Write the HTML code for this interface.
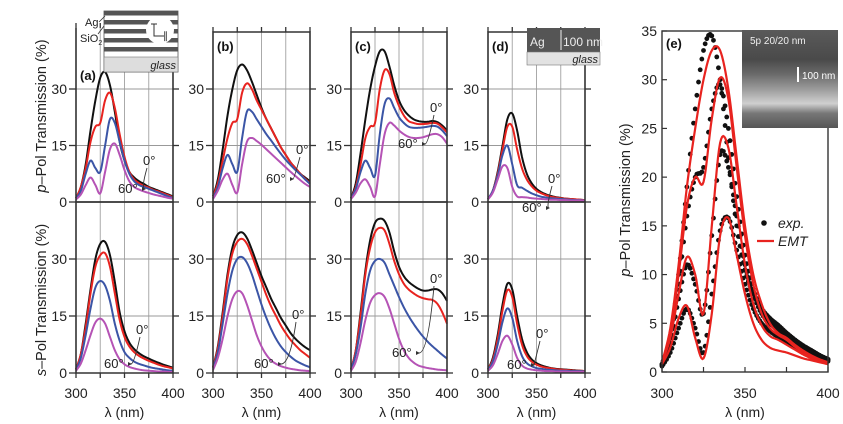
<!DOCTYPE html>
<html><head><meta charset="utf-8">
<style>
html,body{margin:0;padding:0;background:#fff;}
svg{display:block;font-family:"Liberation Sans",sans-serif;}
</style></head>
<body>
<svg id="fig" width="843" height="424" viewBox="0 0 843 424" xmlns="http://www.w3.org/2000/svg">
<rect x="0" y="0" width="843" height="424" fill="#fff"/>
<g id="grids"></g>
<g id="curves"></g>
<g id="frames"></g>
<g id="labels"></g>
</svg>
<script>
// ---------- data (wavelength samples every 5 nm) ----------
const wavelengths = [300,305,310,315,320,325,330,335,340,345,350,355,360,365,370,375,380,385,390,395,400];
const xTicks = [300,350,400];
const xGrid = [325,350,375];
const yTicksLeft = [0,15,30];
const yTicksE = [0,5,10,15,20,25,30,35];

// panel a, p-pol (0°,20°?,40°?,60°)
const pA_k = [1,4,10,19,27,33,34.5,31,24,16,11,8,6.5,5.5,4.8,4,3.5,3,2.5,2,1.5];
const pA_r = [1,4,9,16,20,21,27,29,25,18,12,8,6,5,4.3,3.8,3.2,2.8,2.3,1.8,1.3];
const pA_b = [1,3,7.5,11,9,8,15,22,21,16,11,7.5,5.5,4.5,4,3.5,3,2.5,2,1.5,1.1];
const pA_m = [0.7,2,4.5,6.5,4.5,2.3,8,14,15.5,12.5,8.5,5.5,4,3.3,2.8,2.4,2,1.7,1.4,1.1,0.9];
// panel b, p-pol
const pB_k = [1.5,6,14,23,30,35,36.5,35,32,28.5,25,22,19.5,17,14.5,12.5,10.5,9,7.5,6.5,5.5];
const pB_r = [1.5,5,11,17,21,22,29,31.5,30,27,24.5,22,19.5,17,14.5,12.5,10.5,9,7.5,6.2,5];
const pB_b = [1,4,9,12.5,10,8,17,24,24,22,20,18,16.3,14.5,12.8,11.2,9.8,8.5,7.3,6,4.8];
const pB_m = [0.8,3,6,7.5,4.5,2.5,10,16,17,16.2,15.2,14,12.8,11.6,10.4,9.2,8,6.9,5.8,4.8,4];
// panel c, p-pol
const pC_k = [1,5,13,22,30,36,40,40,36,31,27,24.5,23,22,21.5,21.3,21.3,21.5,21.2,20.3,19];
const pC_r = [1,4,10,17,20,21,30,35,34,29,25.5,23,21.5,21,20.7,20.7,20.8,21,20.8,19.8,18.5];
const pC_b = [1,3.5,8,11,9,7,18,26,27.5,25,22.5,21,20,19.7,19.7,19.8,20,20.2,20,19,17.5];
const pC_m = [0.8,2.5,5,6,4,1.5,10,18,21,20.3,19,18,17.3,17,17,17.2,17.6,18,18,17.2,15.5];
// panel d, p-pol
const pD_k = [0.8,3,8,15,22,23.5,19,12,7.5,5,3.5,2.6,2,1.6,1.3,1.1,0.9,0.8,0.7,0.6,0.5];
const pD_r = [0.8,3,7.5,14,20,20,14,9,6,4.2,3,2.3,1.8,1.4,1.2,1,0.9,0.8,0.7,0.6,0.5];
const pD_b = [0.8,3,7,12.5,15,10,4.5,3.8,3,2.3,1.8,1.4,1.2,1,0.9,0.8,0.7,0.6,0.5,0.5,0.4];
const pD_m = [0.7,2.5,6,9.5,9,4,1.5,1.3,1.2,1,0.9,0.8,0.7,0.6,0.6,0.5,0.5,0.4,0.4,0.4,0.3];
// panel a, s-pol
const sA_k = [1,5,13,22,30,34,34.5,31,24,16,11,8,6.3,5.2,4.4,3.8,3.2,2.7,2.2,1.8,1.4];
const sA_r = [1,5,12,21,28,31,31.5,28,21,14,9.5,7,5.5,4.5,3.8,3.2,2.7,2.2,1.8,1.5,1.2];
const sA_b = [0.8,4,10,17,22.5,24.2,23,19,13,8.5,5.5,4,3,2.4,2,1.6,1.3,1.1,0.9,0.7,0.6];
const sA_m = [0.6,2.5,6,10,13.3,14.3,13,9.5,6,3.6,2.3,1.6,1.2,0.9,0.7,0.6,0.5,0.4,0.4,0.3,0.3];
// panel b, s-pol
const sB_k = [1.5,7,16,26,33,36.3,37,35.5,32.5,29,25.5,22.5,19.5,17,14.5,12.5,10.5,9,7.8,6.8,6];
const sB_r = [1.5,6.5,15,25,31.5,34.5,35.3,34,31,27.5,24,20.5,17.5,15,12.5,10.5,8.7,7.3,6,5,4];
const sB_b = [1.2,5.5,13,21,27,30,30.5,29,26,22,18,14.5,11.5,9,7,5.5,4.3,3.3,2.6,2,1.5];
const sB_m = [0.8,4,9,15,19.5,21.5,21,18,14,10,7,4.8,3.3,2.4,1.8,1.4,1.1,0.9,0.7,0.6,0.5];
// panel c, s-pol
const sC_k = [1,6,16,27,35,39.5,40.6,40,37,32,28,25.5,24,23,22.2,21.7,21.7,22,22,21,19];
const sC_r = [1,6,15,26,33,37,38.2,37.5,34,29.5,26,23.5,22,21,20.2,19.7,19.4,19.2,18.2,16,13];
const sC_b = [0.8,5,12,21,27,29.5,30,29,26,23,20,17.3,15,13,11.2,9.6,8.2,7,5.9,4.8,3.8];
const sC_m = [0.6,3,8,14,18.5,20.5,21,20,17,13,9,6,4,2.8,2,1.6,1.3,1.1,0.9,0.8,0.7];
// panel d, s-pol
const sD_k = [1,4,10,18,23.5,22,15,9,5.5,3.6,2.6,2,1.6,1.3,1.1,1,0.9,0.8,0.7,0.6,0.5];
const sD_r = [1,3.5,9,16.5,21.8,20,13,7.5,4.5,3,2.2,1.7,1.4,1.2,1,0.9,0.8,0.7,0.6,0.6,0.5];
const sD_b = [0.8,3,7.5,13.5,17,14.5,8.5,4.5,2.6,1.8,1.3,1.1,0.9,0.8,0.7,0.6,0.6,0.5,0.5,0.5,0.4];
const sD_m = [0.6,2,5,8.5,9.8,7.5,4,2,1.2,0.9,0.7,0.6,0.5,0.5,0.4,0.4,0.4,0.3,0.3,0.3,0.3];
// panel e, EMT fits
const emt0 = [1,4.5,11,19,25,30,33,33,29,22,15,10,7,5,4,3.5,2.8,2.2,1.7,1.3,1];
const emt1 = [1,4,10,17,20,19.5,26,30.2,28,21,14,9,6,4.5,3.8,3.3,2.6,2,1.6,1.2,0.9];
const emt2 = [1,3.5,8,11.8,10,6,15,23.5,23,17,11,7,4.8,3.7,3.3,2.8,2.3,1.8,1.4,1.1,0.8];
const emt3 = [0.8,2.5,5.5,6.8,3.5,1.4,6,14,15.8,12,8,5,3.3,2.5,2.2,2,1.7,1.4,1.2,1,0.8];
// panel e, experiment
const exp0 = [0.8,3.5,10,19,27,33,34.5,30,22,15,10.5,8,6.5,5.5,4.8,4,3.3,2.7,2.2,1.7,1.3];
const exp1 = [0.8,3.5,9,16,20,21,27,29.5,25,18,12,8.5,6.5,5.5,4.7,4,3.3,2.7,2.2,1.7,1.3];
const exp2 = [0.7,3,7.5,11,9,6,14,22.3,21,16,11,8,6,5,4.3,3.7,3,2.5,2,1.6,1.2];
const exp3 = [0.6,2,4.5,6.5,4.5,2,8,14.5,15.8,12.5,9,6.5,5,4.2,3.6,3.1,2.6,2.1,1.7,1.4,1.1];

// ---------- helpers ----------
const NS = "http://www.w3.org/2000/svg";
const COL = {k:"#111", r:"#e8231f", b:"#3b55a6", m:"#b553b5"};
function el(tag, attrs, parent){
  const e = document.createElementNS(NS, tag);
  for (const k in attrs) e.setAttribute(k, attrs[k]);
  parent.appendChild(e);
  return e;
}
function splinePts(xs, ys, steps){
  const out=[];
  const n=xs.length;
  for(let i=0;i<n-1;i++){
    const x0=xs[Math.max(i-1,0)], y0=ys[Math.max(i-1,0)];
    const x1=xs[i], y1=ys[i], x2=xs[i+1], y2=ys[i+1];
    const x3=xs[Math.min(i+2,n-1)], y3=ys[Math.min(i+2,n-1)];
    for(let s=0;s<steps;s++){
      const t=s/steps, t2=t*t, t3=t2*t;
      const cr=(a,b,c,d)=>0.5*((2*b)+(-a+c)*t+(2*a-5*b+4*c-d)*t2+(-a+3*b-3*c+d)*t3);
      out.push([cr(x0,x1,x2,x3), cr(y0,y1,y2,y3)]);
    }
  }
  out.push([xs[n-1], ys[n-1]]);
  return out;
}
function curvePath(sx, sy, vals){
  const xs=wavelengths.map(sx), ys=vals.map(sy);
  const p=splinePts(xs,ys,8);
  return "M"+p.map(q=>q[0].toFixed(2)+","+q[1].toFixed(2)).join("L");
}
function txt(parent, x, y, s, opts){
  const t = el("text", Object.assign({x:x, y:y, "font-size":14, fill:"#222"}, opts||{}), parent);
  t.textContent = s;
  return t;
}

const G = document.getElementById("grids");
const C = document.getElementById("curves");
const F = document.getElementById("frames");
const L = document.getElementById("labels");

// panel layout (positions only)
const panels = [
  {id:"a", x0:76,  x1:173, top:28, y0:202, y30:89,  series:[pA_k,pA_r,pA_b,pA_m], noTop:true},
  {id:"b", x0:213, x1:310, top:32, y0:202, y30:89,  series:[pB_k,pB_r,pB_b,pB_m]},
  {id:"c", x0:351, x1:447, top:32, y0:202, y30:89,  series:[pC_k,pC_r,pC_b,pC_m]},
  {id:"d", x0:488, x1:585, top:32, y0:202, y30:89,  series:[pD_k,pD_r,pD_b,pD_m]},
  {id:"a", x0:76,  x1:173, top:202, y0:373, y30:259, series:[sA_k,sA_r,sA_b,sA_m], bottom:true},
  {id:"b", x0:213, x1:310, top:202, y0:373, y30:259, series:[sB_k,sB_r,sB_b,sB_m], bottom:true},
  {id:"c", x0:351, x1:447, top:202, y0:373, y30:259, series:[sC_k,sC_r,sC_b,sC_m], bottom:true},
  {id:"d", x0:488, x1:585, top:202, y0:373, y30:259, series:[sD_k,sD_r,sD_b,sD_m], bottom:true}
];
const colorKeys = ["k","r","b","m"];

panels.forEach((P, pi)=>{
  const sx = w => P.x0 + (w-300)/100*(P.x1-P.x0);
  const sy = v => P.y0 - v*(P.y0-P.y30)/30;
  const pol = P.bottom ? "s" : "p";
  // grid
  xGrid.forEach(w=>{
    const g = el("line",{x1:sx(w),x2:sx(w),y1:P.top,y2:P.y0,stroke:"#aaa","stroke-width":1},G);
    
    
  });
  yTicksLeft.forEach(v=>{
    if(v===0) return;
    const g = el("line",{x1:P.x0,x2:P.x1,y1:sy(v),y2:sy(v),stroke:"#999","stroke-width":1},G);
    
    
  });
  // curves
  P.series.forEach((vals, si)=>{
    const p = el("path",{d:curvePath(sx,sy,vals),fill:"none",stroke:COL[colorKeys[si]],"stroke-width":2,"stroke-linejoin":"round"},C);
    
    
  });
  // frame
  const fr = el("path",{d:(P.noTop? "M"+P.x0+","+P.top+"V"+P.y0+"H"+P.x1+"V72" :
     "M"+P.x0+","+P.top+"H"+P.x1+"V"+P.y0+"H"+P.x0+"Z"),fill:"none",stroke:"#333","stroke-width":1.6},F);
  
  
  // y ticks
  yTicksLeft.forEach(v=>{
    el("line",{x1:P.x0-7,x2:P.x0,y1:sy(v),y2:sy(v),stroke:"#333","stroke-width":1.3},F);
    el("line",{x1:P.x1,x2:P.x1+6,y1:sy(v),y2:sy(v),stroke:"#333","stroke-width":1.3},F);
    if(!(P.bottom===false) ){
      if(P.bottom && v===0 && false) return;
    }
    if(!P.bottom || v!==45){
      const t = txt(L, P.x0-9, sy(v)+5, String(v), {"text-anchor":"end","font-size":14});
      
      
    }
  });
  // x ticks for bottom row
  if(P.bottom){
    [300,325,350,375,400].forEach(w=>{
      el("line",{x1:sx(w),x2:sx(w),y1:P.y0,y2:P.y0+5,stroke:"#333","stroke-width":1.3},F);
    });
    xTicks.forEach(w=>{
      const t = txt(L, sx(w), 398, String(w), {"text-anchor":"middle","font-size":14});
      
      
    });
    const xl = txt(L, (P.x0+P.x1)/2, 417, "λ (nm)", {"text-anchor":"middle","font-size":14});
    
    
  } else {
    [300,325,350,375,400].forEach(w=>{
      el("line",{x1:sx(w),x2:sx(w),y1:P.top,y2:P.top-5,stroke:"#333","stroke-width":1.3},F);
    });
    const pl = txt(L, P.x0+4, P.id==="a"?80:51, "("+P.id+")", {"font-size":13,"font-weight":"bold","fill":"#111"});
    
    
  }
});

// angle annotations
const ann = [
  [143,165,118,193],[296,154,266,183],[430,112,398,148],[548,183,522,212],
  [136,334,104,368],[292,319,254,368],[430,283,392,357],[536,338,507,369]
];
ann.forEach(a=>{
  const t0 = txt(L, a[0], a[1], "0°", {"font-size":13});
  
  
  const t6 = txt(L, a[2], a[3], "60°", {"font-size":13});
  
  
  const ar = el("path",{d:"M"+(a[0]+4)+","+(a[1]+3)+"Q"+(a[0]-2)+","+(a[3]-4)+" "+(a[2]+27)+","+(a[3]-4),fill:"none",stroke:"#333","stroke-width":0.9},L);
  
  
  el("path",{d:"M"+(a[2]+24)+","+(a[3]-6)+"l4,2l-4,2z",fill:"#333"},L);
});

// y-axis titles
(function(){
  const t1 = txt(L, 0, 0, "", {"font-size":14.5,"text-anchor":"middle","transform":"translate(46,116) rotate(-90)"});
  t1.innerHTML = '<tspan font-style="italic">p</tspan>–Pol Transmission (%)';
  
  
  const t2 = txt(L, 0, 0, "", {"font-size":14.5,"text-anchor":"middle","transform":"translate(46,300) rotate(-90)"});
  t2.innerHTML = '<tspan font-style="italic">s</tspan>–Pol Transmission (%)';
  
  
})();

// inset (a): multilayer schematic
(function(){
  const g = el("g",{},L);
  
  
  el("rect",{x:104,y:11,width:74,height:61,fill:"#fff",stroke:"#555","stroke-width":0.8},g);
  for(let i=0;i<5;i++){
    el("rect",{x:104,y:11+i*9,width:74,height:4.5,fill:"#555"},g);
  }
  el("rect",{x:104,y:57,width:74,height:15,fill:"#ddd",stroke:"#777","stroke-width":0.6},g);
  const gl = txt(g, 176, 69, "glass", {"font-size":11,"font-style":"italic","text-anchor":"end"});
  el("circle",{cx:160,cy:30,r:14,fill:"#fff"},g);
  el("path",{d:"M151,24h6M154,24v12h10",fill:"none",stroke:"#333","stroke-width":1},g);
  txt(g, 163, 39, "∥", {"font-size":10});
  txt(g, 85, 26, "Ag", {"font-size":11});
  const s = txt(g, 80, 42, "", {"font-size":11});
  s.innerHTML = 'SiO<tspan font-size="7" dy="3">2</tspan>';
  el("path",{d:"M99,22L105,16M98,34L104,26",stroke:"#333","stroke-width":0.8,fill:"none"},g);
})();

// inset (d): Ag film
(function(){
  const g = el("g",{},L);
  
  
  el("rect",{x:527,y:28,width:73,height:24,fill:"#555"},g);
  el("rect",{x:527,y:52,width:73,height:13,fill:"#e2e2e2",stroke:"#777","stroke-width":0.6},g);
  txt(g, 530, 46, "Ag", {"font-size":12,fill:"#eee"});
  el("line",{x1:561,x2:561,y1:30,y2:50,stroke:"#eee","stroke-width":1},g);
  txt(g, 563, 46, "100 nm", {"font-size":12,fill:"#eee"});
  txt(g, 598, 63, "glass", {"font-size":11,"font-style":"italic","text-anchor":"end"});
})();

// ---------- panel (e) ----------
(function(){
  const X0=662, X1=828, Y0=372, Y35=31;
  const sx = w => X0 + (w-300)/100*(X1-X0);
  const sy = v => Y0 - v*(Y0-Y35)/35;
  // experimental dots
  [exp0,exp1,exp2,exp3].forEach((vals,i)=>{
    const pts = splinePts(wavelengths, vals, 5);
    pts.forEach(p=>{
      const c = el("circle",{cx:sx(p[0]).toFixed(2),cy:sy(p[1]).toFixed(2),r:2.4,fill:"#111"},C);
      
      
    });
  });
  [emt0,emt1,emt2,emt3].forEach((vals,i)=>{
    const p = el("path",{d:curvePath(sx,sy,vals),fill:"none",stroke:"#e8231f","stroke-width":2.2},C);
    
    
  });
  const fr = el("rect",{x:X0,y:Y35,width:X1-X0,height:Y0-Y35,fill:"none",stroke:"#333","stroke-width":1.4},F);
  
  
  yTicksE.forEach(v=>{
    el("line",{x1:X0,x2:X0+5,y1:sy(v),y2:sy(v),stroke:"#333","stroke-width":1.2},F);
    const t = txt(L, X0-5, sy(v)+5, String(v), {"text-anchor":"end","font-size":14});
    
    
  });
  [300,325,350,375,400].forEach(w=>{
    el("line",{x1:sx(w),x2:sx(w),y1:Y0,y2:Y0-5,stroke:"#333","stroke-width":1.2},F);
  });
  xTicks.forEach(w=>{
    const t = txt(L, sx(w), 398, String(w), {"text-anchor":"middle","font-size":14});
    
    
  });
  const xl = txt(L, (X0+X1)/2, 417, "λ (nm)", {"text-anchor":"middle","font-size":14});
  
  
  const yt = txt(L, 0, 0, "", {"font-size":14.5,"text-anchor":"middle","transform":"translate(630,200) rotate(-90)"});
  yt.innerHTML = '<tspan font-style="italic">p</tspan>–Pol Transmission (%)';
  
  
  const pl = txt(L, 666, 48, "(e)", {"font-size":13,"font-weight":"bold",fill:"#111"});
  
  
  // SEM inset
  const g = el("g",{},L);
  
  
  el("defs",{},g).innerHTML = '<linearGradient id="semg" x1="0" y1="0" x2="0" y2="1"><stop offset="0" stop-color="#5a5a5a"/><stop offset="0.3" stop-color="#4a4a4a"/><stop offset="0.45" stop-color="#6a6a6a"/><stop offset="0.6" stop-color="#9a9a9a"/><stop offset="0.75" stop-color="#d0d0d0"/><stop offset="0.85" stop-color="#777"/><stop offset="1" stop-color="#555"/></linearGradient>';
  el("rect",{x:742,y:30,width:96,height:98,fill:"url(#semg)"},g);
  txt(g, 750, 44, "5p 20/20 nm", {"font-size":10,fill:"#eee"});
  el("line",{x1:798,x2:798,y1:67,y2:82,stroke:"#fff","stroke-width":2},g);
  txt(g, 802, 79, "100 nm", {"font-size":10,fill:"#fff"});
  // legend
  const lg = el("g",{},L);
  
  
  el("circle",{cx:764,cy:223,r:2.8,fill:"#111"},lg);
  txt(lg, 778, 228, "exp.", {"font-size":14,"font-style":"italic"});
  el("line",{x1:757,x2:774,y1:241,y2:241,stroke:"#e8231f","stroke-width":2.2},lg);
  txt(lg, 778, 246, "EMT", {"font-size":14,"font-style":"italic"});
})();
</script>
</body></html>
